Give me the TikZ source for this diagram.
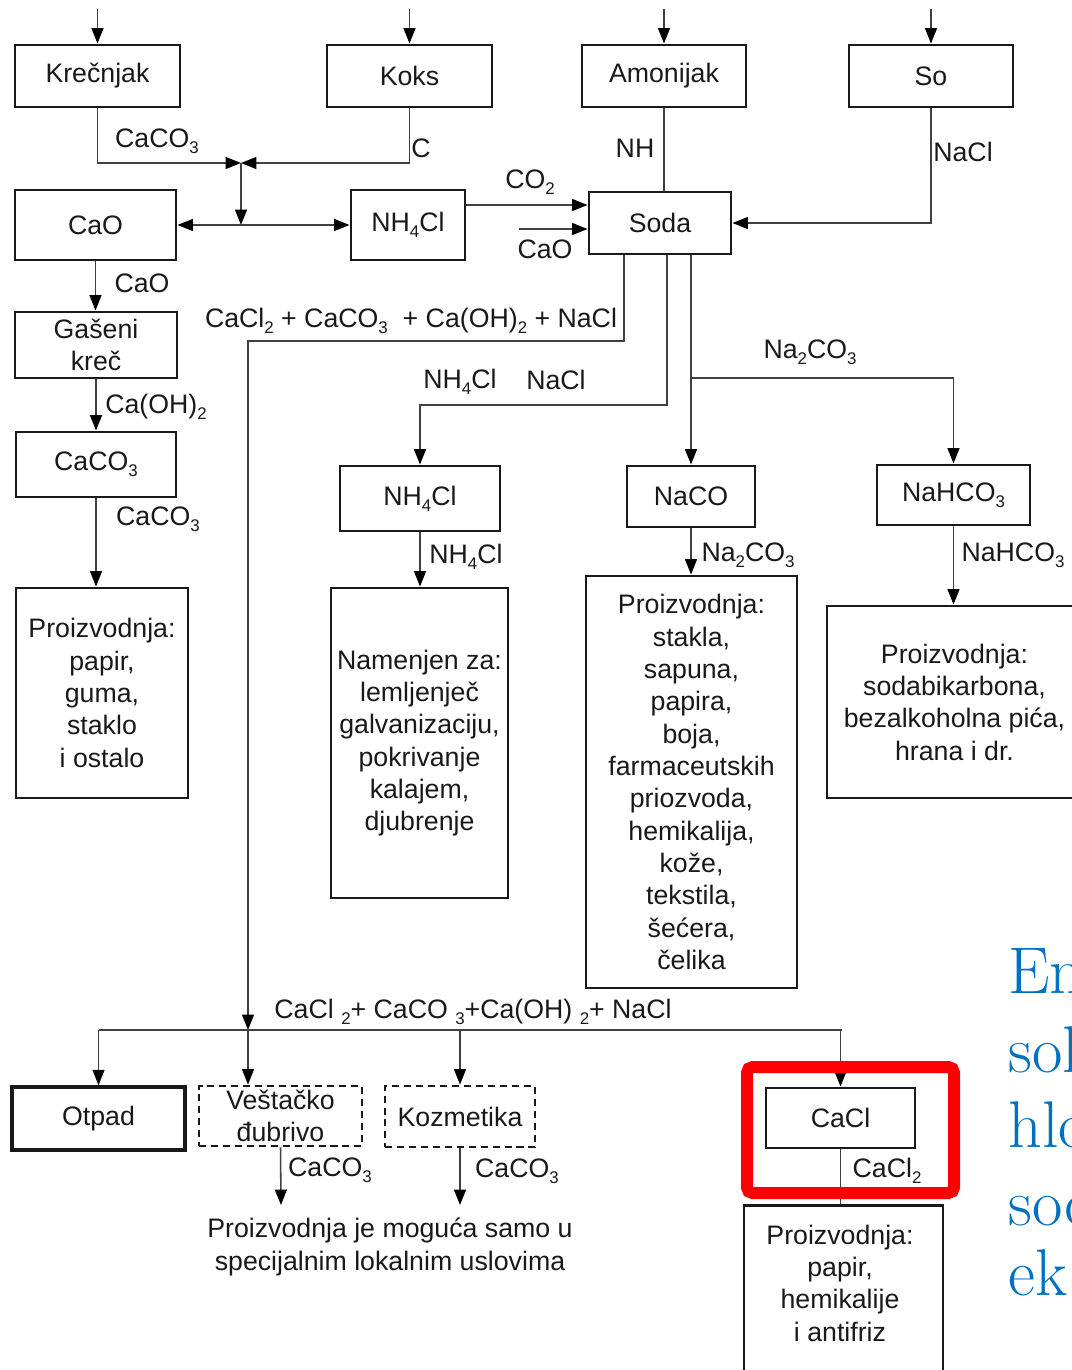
\documentclass[tikz,border=0pt]{standalone}
\usepackage{fontspec}
\newfontfamily\arialfont{Liberation Sans}
\usetikzlibrary{arrows.meta}
\definecolor{slideblue}{RGB}{0,112,192}
\newcommand{\chsub}[1]{\raisebox{-0.45ex}{\fontsize{12}{12}\selectfont #1}}

\begin{document}
\begin{tikzpicture}[
    x=0.025cm, y=-0.025cm,
    sv size/.style 2 args={
        minimum width=#1*0.025cm,
        minimum height=#2*0.025cm
    },
    sv box/.style={
        draw=black!90,
        line width=2.1pt,
        inner sep=0pt,
        align=center,
        font=\arialfont\fontsize{19}{23}\selectfont,
        text=black!90
    },
    sv option/.style={
        sv box,
        line width=2pt,
        dash pattern=on 5pt off 3.5pt
    },
    sv label/.style={
        inner sep=0pt,
        align=center,
        font=\arialfont\fontsize{19}{23}\selectfont,
        text=black!90
    },
    sv line/.style={
        line width=1.1pt,
        draw=black!75
    },
    sv flow/.style={
        sv line,
        -{Triangle[length=11pt,width=8.5pt,color=black]}
    },
    sv both/.style={
        sv line,
        {Triangle[length=11pt,width=8.5pt,color=black]}-{Triangle[length=11pt,width=8.5pt,color=black]}
    },
    sv slide/.style={
        anchor=base west,
        inner sep=0pt,
        text=slideblue,
        font=\fontsize{47}{55}\selectfont
    }
]
    \useasboundingbox (0,0) rectangle (1072,1370);
    \clip (0,0) rectangle (1072,1370);

    % Sirovine
    \node[sv box, sv size={165}{62}] (krecnjak) at (97.5,76) {Krečnjak};
    \node[sv box, sv size={165}{62}] (koks) at (409.5,76) {Koks};
    \node[sv box, sv size={164}{62}] (amonijak) at (664,76) {Amonijak};
    \node[sv box, sv size={164}{62}] (so) at (931,76) {So};
    \foreach \src in {krecnjak,koks,amonijak,so} {
        \draw[sv flow] (\src.north) ++(0,-35) -- (\src.north);
    }

    % Medjuproizvodi
    \node[sv box, sv size={161}{70}] (cao) at (95.5,225) {CaO};
    \node[sv box, sv size={114}{70}] (nh4cl) at (408,225) {NH\chsub{4}Cl};
    \node[sv box, sv size={142}{62}] (soda) at (660,223) {Soda};
    \node[sv box, sv size={162}{66}] (gaseni) at (96,345) {Gašeni\\kreč};
    \node[sv box, sv size={160}{65}] (caco3) at (96,464.5) {CaCO\chsub{3}};
    \node[sv box, sv size={160}{65}] (nh4clB) at (420,498.5) {NH\chsub{4}Cl};
    \node[sv box, sv size={128}{61}] (naco) at (691,496.5) {NaCO};
    \node[sv box, sv size={153}{60}] (nahco3) at (953.5,495) {NaHCO\chsub{3}};

    % Primena
    \node[sv box, sv size={172}{210}] (prodA) at (102,693)
        {Proizvodnja:\\papir,\\guma,\\staklo\\i ostalo};
    \node[sv box, sv size={177}{310}] (namenjen) at (419.5,743)
        {Namenjen za:\\lemljenječ\\galvanizaciju,\\pokrivanje\\kalajem,\\djubrenje};
    \node[sv box, sv size={211}{412}] (prodB) at (691.5,782)
        {Proizvodnja:\\stakla,\\sapuna,\\papira,\\boja,\\farmaceutskih\\priozvoda,\\hemikalija,\\kože,\\tekstila,\\šećera,\\čelika};
    \node[sv box, sv size={255}{192}] (prodC) at (954.5,702)
        {Proizvodnja:\\sodabikarbona,\\bezalkoholna pića,\\hrana i dr.};

    % Otpadne materije
    \node[sv box, sv size={173}{63}, line width=2.5pt] (otpad) at (98.5,1118.5) {Otpad};
    \node[sv option, sv size={163}{60}] (vestacko) at (280.5,1116) {Veštačko\\đubrivo};
    \node[sv option, sv size={150}{61}] (kozmetika) at (460,1116.5) {Kozmetika};
    \node[sv box, sv size={149}{60}] (cacl) at (840.5,1118) {CaCl};
    \node[sv box, sv size={199}{200}, anchor=north] (prodD) at (843.5,1204) {};
    \node[sv label] (prodDtekst) at (840,1283)
        {Proizvodnja:\\papir,\\hemikalije\\i antifriz};
    \node[sv label] (napomena) at (390,1247)
        {Proizvodnja je moguća samo u\\specijalnim lokalnim uslovima};

    % Pec za krec
    \coordinate (mesanje) at (241,163);
    \draw[sv flow] (krecnjak.south) |- (mesanje);
    \draw[sv flow] (koks.south) |- (mesanje);
    \draw[sv flow] (mesanje) -- (mesanje |- cao.east);
    \draw[sv both] (cao.east) -- (nh4cl.west);

    % Ulazi u sodu
    \coordinate (caoulaz) at (519,229);
    \draw[sv line] (amonijak.south) -- (amonijak.south |- soda.north);
    \draw[sv flow] (so.south) |- (soda.east);
    \draw[sv flow] (nh4cl.east |- 0,205) -- (soda.west |- 0,205);
    \draw[sv flow] (caoulaz) -- (soda.west |- caoulaz);

    % Izlazi iz sode
    \coordinate (spoj) at (248,1030);
    \draw[sv flow] (soda.south -| 624,0) |- (248,341) -- (spoj);
    \draw[sv flow] (soda.south -| 667,0) |- (nh4clB.north |- 0,405) -- (nh4clB.north);
    \draw[sv flow] (soda.south -| naco.north) -- (naco.north);
    \draw[sv flow] (naco.north |- 0,378) -| (nahco3.north);

    % Vertikalni tokovi
    \draw[sv flow] (cao.south) -- (cao.south |- gaseni.north);
    \draw[sv flow] (gaseni.south) -- (gaseni.south |- caco3.north);
    \draw[sv flow] (caco3.south) -- (caco3.south |- prodA.north);
    \draw[sv flow] (nh4clB.south) -- (nh4clB.south |- namenjen.north);
    \draw[sv flow] (naco.south) -- (naco.south |- prodB.north);
    \draw[sv flow] (nahco3.south) -- (nahco3.south |- prodC.north);

    % Raspodela otpada
    \coordinate (krajA) at (281,1205);
    \coordinate (krajB) at (460,1205);
    \draw[sv line] (otpad.north |- spoj) -- (842,1030);
    \foreach \dst in {otpad,kozmetika,cacl} {
        \draw[sv flow] (\dst.north |- spoj) -- (\dst.north);
    }
    \draw[sv flow] (spoj) -- (spoj |- vestacko.north);
    \draw[sv flow] (vestacko.south) -- (krajA);
    \draw[sv flow] (kozmetika.south) -- (krajB);
    \draw[sv line] (cacl.south) -- (cacl.south |- prodD.north);

    % Oznake tokova
    \node[sv label] (lCaCO3a) at (157,141) {CaCO\chsub{3}};
    \node[sv label] (lC) at (421,148) {C};
    \node[sv label] (lNH) at (635,148) {NH};
    \node[sv label] (lNaCl) at (963,152) {NaCl};
    \node[sv label] (lCO2) at (530,182) {CO\chsub{2}};
    \node[sv label] (lCaOin) at (545,249) {CaO};
    \node[sv label] (lCaO) at (142,283) {CaO};
    \node[sv label] (lOstatak) at (411,321)
        {CaCl\chsub{2} + CaCO\chsub{3} \ + Ca(OH)\chsub{2} + NaCl};
    \node[sv label] (lNH4Cl) at (460,382) {NH\chsub{4}Cl};
    \node[sv label] (lNaClB) at (556,380) {NaCl};
    \node[sv label] (lNa2CO3) at (810,352) {Na\chsub{2}CO\chsub{3}};
    \node[sv label] (lCaOH2) at (156,407) {Ca(OH)\chsub{2}};
    \node[sv label] (lCaCO3b) at (158,519) {CaCO\chsub{3}};
    \node[sv label] (lNH4ClB) at (466,557) {NH\chsub{4}Cl};
    \node[sv label] (lNa2CO3b) at (748,555) {Na\chsub{2}CO\chsub{3}};
    \node[sv label] (lNaHCO3) at (1013,555) {NaHCO\chsub{3}};
    \node[sv label] (lOstatakB) at (473,1012)
        {CaCl \chsub{2}+ CaCO \chsub{3}+Ca(OH) \chsub{2}+ NaCl};
    \node[sv label] (lCaCO3c) at (330,1170) {CaCO\chsub{3}};
    \node[sv label] (lCaCO3d) at (517,1171) {CaCO\chsub{3}};
    \node[sv label] (lCaCl2) at (887,1171) {CaCl\chsub{2}};

    % Isticanje i tekst slajda
    \draw[red, line width=12*0.025cm, rounded corners=4pt] (747,1067) rectangle (954,1193);
    \foreach \word/\ypos [count=\i] in {En/993,sol/1072,hlo/1147,sod/1225,ek/1295} {
        \node[sv slide] (slide\i) at (1008,\ypos) {\word};
    }
\end{tikzpicture}
\end{document}
